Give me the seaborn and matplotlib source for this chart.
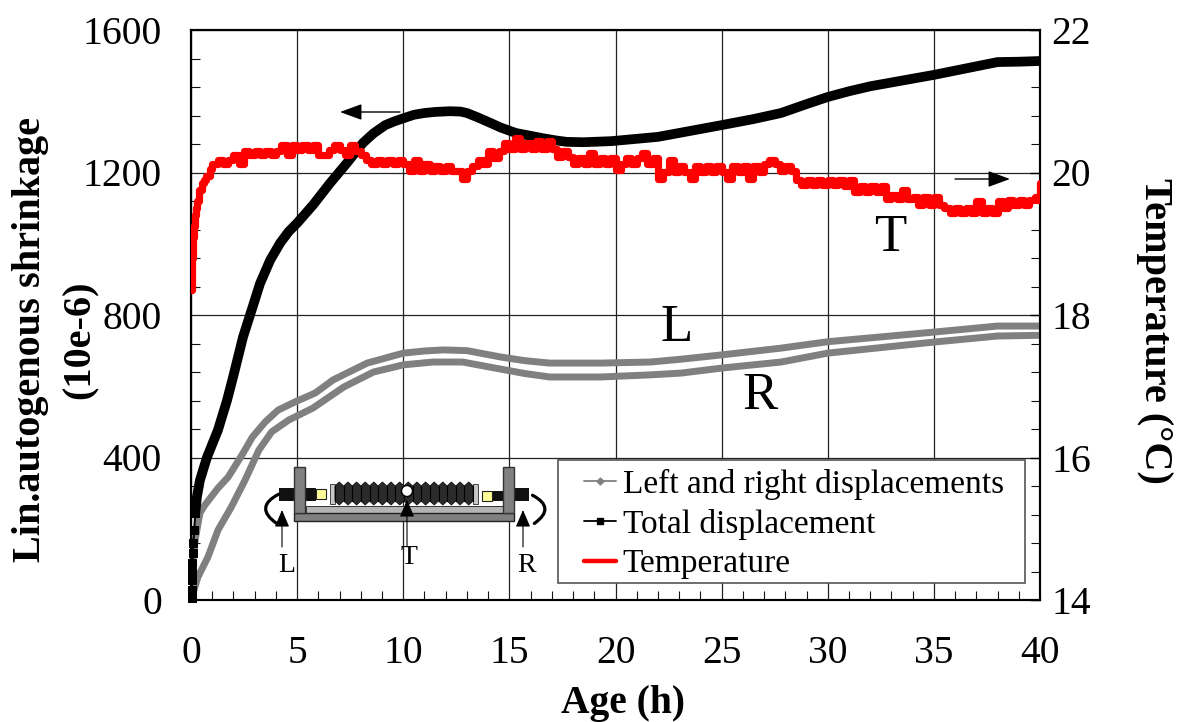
import matplotlib
matplotlib.use("Agg")
import matplotlib.pyplot as plt
import seaborn as sns
from matplotlib.lines import Line2D
from matplotlib.patches import Circle, FancyArrowPatch, Polygon, Rectangle
from matplotlib.ticker import MultipleLocator

# Values
TOTAL_HOURS = [0.03, 0.04, 0.05, 0.06, 0.07, 0.09, 0.11, 0.15, 0.2, 0.28, 0.42, 0.75, 1.27, 1.7, 2.0,
               2.45, 2.9, 3.25, 3.73, 4.2, 4.6, 5.0, 5.75, 6.55, 7.35, 8.1, 8.6, 9.15, 9.6, 10.0, 10.5, 11.0, 11.5,
               12.2, 12.7, 13.0, 13.5, 14.0, 14.6, 15.3, 16.0, 16.6, 17.2, 17.7, 18.5, 19.8, 22.0, 23.0, 24.0,
               25.0, 26.5, 27.8, 29.0, 30.0, 31.0, 32.0, 33.5, 35.0, 36.5, 38.0, 39.0, 40.0]
TOTAL_SHRINK = [5, 28, 56, 79, 103, 131, 160, 196, 243, 290, 336, 400, 477, 561, 630,
                738, 822, 888, 954, 1002, 1034, 1058, 1109, 1170, 1227, 1283, 1310, 1333, 1344, 1352, 1362, 1367, 1370,
                1372, 1371, 1367, 1355, 1342, 1326, 1311, 1303, 1296, 1290, 1286, 1285, 1288, 1300, 1311, 1322,
                1333, 1350, 1367, 1392, 1412, 1428, 1442, 1458, 1474, 1492, 1510, 1511, 1513]

LEFT_HOURS = [0.0, 0.1, 0.2, 0.42, 0.66, 1.27, 1.75, 2.4, 2.9, 3.5, 4.1, 4.9, 5.85, 6.7, 8.3, 10.0, 11.0, 11.9,
              13.0, 14.6, 15.7, 16.9, 19.3, 21.65, 23.1, 25.0, 27.8, 30.0, 35.0, 38.0, 40.0]
LEFT_SHRINK = [40, 120, 170, 244, 267, 314, 345, 407, 458, 500, 533, 556, 581, 618, 665, 693, 699, 702,
               700, 682, 672, 665, 665, 668, 676, 688, 707, 725, 752, 769, 769]

RIGHT_HOURS = [0.0, 0.1, 0.33, 0.8, 1.27, 1.9, 2.55, 3.2, 3.8, 4.6, 5.75, 7.2, 8.6, 10.0, 11.4, 12.8,
               14.6, 15.7, 16.9, 19.3, 21.65, 23.1, 25.0, 27.8, 30.0, 35.0, 38.0, 40.0]
RIGHT_SHRINK = [5, 20, 65, 121, 196, 261, 337, 421, 472, 505, 539, 598, 640, 660, 668, 668,
                648, 636, 626, 626, 632, 637, 651, 668, 693, 724, 741, 743]

TEMP_RISE_HOURS = [0.0, 0.03, 0.06, 0.1, 0.15, 0.2, 0.25, 0.3, 0.4, 0.5, 0.6, 0.7, 0.9]
TEMP_RISE = [18.35, 18.6, 18.8, 19.1, 19.25, 19.4, 19.5, 19.6, 19.75, 19.85, 19.9, 19.95, 20.05]
# one row per hour, four readings each, from hour 1 to hour 38
TEMP_BAND = [
    20.12, 20.17, 20.12, 20.17,
    20.24, 20.12, 20.3, 20.24,
    20.3, 20.24, 20.3, 20.24,
    20.3, 20.38, 20.24, 20.38,
    20.31, 20.38, 20.31, 20.38,
    20.24, 20.24, 20.31, 20.38,
    20.31, 20.24, 20.38, 20.3,
    20.24, 20.17, 20.12, 20.17,
    20.12, 20.17, 20.12, 20.17,
    20.12, 20.02, 20.17, 20.02,
    20.12, 20.02, 20.09, 20.02,
    20.09, 20.02, 20.02, 19.91,
    20.02, 20.09, 20.17, 20.12,
    20.3, 20.2, 20.3, 20.41,
    20.33, 20.48, 20.33, 20.41,
    20.33, 20.44, 20.33, 20.44,
    20.33, 20.22, 20.3, 20.22,
    20.12, 20.2, 20.12, 20.27,
    20.12, 20.2, 20.12, 20.2,
    20.04, 20.12, 20.2, 20.12,
    20.2, 20.27, 20.12, 20.2,
    19.91, 20.01, 20.17, 20.01,
    20.09, 20.01, 19.91, 20.09,
    20.01, 20.09, 20.01, 20.09,
    20.01, 19.91, 20.09, 20.01,
    20.09, 19.91, 20.09, 20.01,
    20.12, 20.17, 20.12, 20.02,
    20.09, 20.02, 19.9, 19.83,
    19.9, 19.83, 19.9, 19.83,
    19.9, 19.83, 19.9, 19.81,
    19.9, 19.73, 19.81, 19.73,
    19.81, 19.73, 19.81, 19.63,
    19.69, 19.63, 19.75, 19.63,
    19.66, 19.54, 19.66, 19.54,
    19.66, 19.54, 19.5, 19.43,
    19.5, 19.43, 19.5, 19.43,
    19.6, 19.43, 19.5, 19.43,
    19.6, 19.5, 19.61, 19.54,
]
TEMP_END_HOURS = [39.0, 39.25, 39.5, 39.75, 39.9, 40.0]
TEMP_END = [19.61, 19.54, 19.61, 19.66, 19.61, 19.85]

X_TICKS = [0, 5, 10, 15, 20, 25, 30, 35, 40]
SHRINK_TICKS = [0, 400, 800, 1200, 1600]
TEMP_TICKS = [14, 16, 18, 20, 22]
SERIES_NAMES = ["Left and right displacements", "Total displacement", "Temperature"]

GREY = "#808080"
SERIF = ["Liberation Serif", "DejaVu Serif"]


def draw_rig(sk):
    """The little test rig drawn inside the plot, positioned in picture pixels."""
    for x0, x1, y0, y1 in [(279, 294, 488, 501), (306, 316, 488, 501), (493, 503, 491, 501), (514, 529, 488, 501)]:
        sk.add_patch(Rectangle((x0, y0), x1 - x0, y1 - y0, fc="#111111", ec="none", zorder=2))
    sk.add_patch(Rectangle((306, 506), 197, 7, fc="#b4b4b4", ec="#333333", lw=0.7, zorder=2))
    sk.add_patch(Rectangle((294, 513), 220, 8, fc=GREY, ec="#222222", lw=1, zorder=3))
    for x0 in (294, 503):
        sk.add_patch(Rectangle((x0, 467), 11, 46, fc=GREY, ec="#333333", lw=1, zorder=3))
    for x0, y0 in [(316, 489), (482, 491)]:
        sk.add_patch(Rectangle((x0, y0), 10, 10, fc="#ffff99", ec="#222222", lw=0.8, zorder=3))
    for x0 in (330, 473):
        sk.add_patch(Rectangle((x0, 484), 5, 20, fc="#c8c8c8", ec="#444444", lw=0.7, zorder=3))

    # bellows
    teeth = 16
    step = (473 - 335) / teeth
    outline = []
    for i in range(teeth):
        outline += [(335 + i * step, 486), (335 + (i + 0.5) * step, 482)]
    outline.append((473, 486))
    for i in range(teeth, 0, -1):
        outline += [(335 + i * step, 501), (335 + (i - 0.5) * step, 505)]
    outline.append((335, 501))
    sk.add_patch(Polygon(outline, closed=True, fc="#2b2b2b", ec="#111111", lw=0.6, zorder=3))
    for i in range(teeth + 1):
        sk.plot([335 + i * step] * 2, [486, 501], color="black", lw=0.8, zorder=4)
    sk.add_patch(Circle((407, 491), 5.5, fc="white", ec="black", lw=1, zorder=5))

    # pointers
    for x0, y0 in [(282, 510), (407, 500), (523, 510)]:
        sk.annotate("", xy=(x0, y0), xytext=(x0, 547), zorder=6,
                    arrowprops=dict(arrowstyle="-|>,head_length=0.7,head_width=0.3", color="black", lw=0.8,
                                    shrinkA=0, shrinkB=0, mutation_scale=15))
    for start, stop, rad in [((281, 493), (279, 525), 0.9), ((530, 494), (532, 525), -0.9)]:
        sk.add_patch(FancyArrowPatch(start, stop, connectionstyle=f"arc3,rad={rad}", arrowstyle="-",
                                     color="black", lw=2.3, zorder=5))
    for label, x0, y0 in [("L", 287, 566), ("T", 409, 557), ("R", 527, 566)]:
        sk.text(x0, y0, label, fontsize=20, ha="center", va="center", zorder=6)


def main():
    sns.set_theme(style="ticks")
    plt.rcParams["font.family"] = SERIF
    plt.rcParams["text.color"] = "black"

    fig = plt.figure(figsize=(11.79, 7.22), dpi=100)
    position = [191 / 1179, 1 - 600 / 722, 849 / 1179, 570 / 722]
    ax = fig.add_axes(position)
    ax_temp = ax.twinx()

    # Grid sits under the curves
    ax.grid(True, which="major", color="#222222", lw=0.9)
    ax.set_axisbelow(True)

    for hours, shrink in [(LEFT_HOURS, LEFT_SHRINK), (RIGHT_HOURS, RIGHT_SHRINK)]:
        sns.lineplot(x=hours, y=shrink, ax=ax, color=GREY, lw=5, estimator=None, sort=False, zorder=3)

    # The very first readings are far enough apart to show as separate squares
    sns.lineplot(x=TOTAL_HOURS[:9], y=TOTAL_SHRINK[:9], ax=ax, color="black", lw=1.5, estimator=None, sort=False,
                 zorder=4, marker="s", markersize=6, markeredgecolor="black", clip_on=False)
    sns.lineplot(x=TOTAL_HOURS[8:], y=TOTAL_SHRINK[8:], ax=ax, color="black", lw=7, estimator=None, sort=False,
                 zorder=4, solid_capstyle="butt")

    temp_hours = TEMP_RISE_HOURS + [1 + 0.25 * i for i in range(len(TEMP_BAND))] + TEMP_END_HOURS
    temp_values = TEMP_RISE + TEMP_BAND + TEMP_END
    sns.lineplot(x=temp_hours, y=temp_values, ax=ax_temp, color="#ff0000", lw=5.2, estimator=None, sort=False,
                 drawstyle="steps-post", solid_joinstyle="round", solid_capstyle="round", zorder=5)

    ax.set_xlim(0, 40)
    ax.set_ylim(0, 1600)
    ax_temp.set_ylim(14, 22)
    ax.set_xticks(X_TICKS)
    ax.set_yticks(SHRINK_TICKS)
    ax_temp.set_yticks(TEMP_TICKS)
    ax.xaxis.set_minor_locator(MultipleLocator(1))
    ax.yaxis.set_minor_locator(MultipleLocator(80))
    ax_temp.yaxis.set_minor_locator(MultipleLocator(0.4))
    ax_temp.grid(False)
    ax_temp.patch.set_visible(False)
    ax.set_zorder(1)
    ax_temp.set_zorder(2)

    ax.tick_params(axis="x", which="major", direction="in", length=0, labelsize=28.5, pad=25, colors="black")
    ax.tick_params(axis="y", which="major", direction="in", length=0, labelsize=28.5, pad=21, colors="black")
    ax.tick_params(which="minor", direction="in", length=6.5, width=0.8, color="#111111")
    ax_temp.tick_params(axis="y", which="major", direction="in", length=7, width=1, labelsize=28.5, pad=8, colors="black")
    ax_temp.tick_params(axis="y", which="minor", direction="in", length=6.5, width=0.8, color="#111111")
    for axis in (ax, ax_temp):
        for spine in axis.spines.values():
            spine.set_linewidth(1.5)
            spine.set_color("black")

    # Labels placed on the figure so the two-line y label can be spaced like the original
    fig.text(623 / 1179, 1 - 703 / 722, "Age (h)", fontsize=28.5, fontweight="bold", ha="center", va="center")
    fig.text(31 / 1179, 1 - 340 / 722, "Lin.autogenous shrinkage", fontsize=29, fontweight="bold",
             rotation=90, ha="center", va="center")
    fig.text(80 / 1179, 1 - 340 / 722, "(10e-6)", fontsize=29, fontweight="bold",
             rotation=90, ha="center", va="center")
    fig.text(1154 / 1179, 1 - 331 / 722, "Temperature (°C)", fontsize=29, fontweight="bold",
             rotation=-90, ha="center", va="center")

    # Overlay in picture pixels for the notes, the rig and the legend
    sk = fig.add_axes(position, zorder=5)
    sk.set_xlim(191, 1040)
    sk.set_ylim(600, 30)
    sk.axis("off")

    for label, x0, y0 in [("L", 677, 328), ("R", 760, 396), ("T", 890, 238)]:
        sk.text(x0, y0, label, fontsize=38, ha="center", va="center")
    for start, stop in [((400, 112), (340, 112)), ((955, 179), (1010, 179))]:
        sk.annotate("", xy=stop, xytext=start,
                    arrowprops=dict(arrowstyle="-|>,head_length=0.9,head_width=0.33", color="black", lw=1,
                                    shrinkA=0, shrinkB=0, mutation_scale=15))
    draw_rig(sk)

    sk.add_patch(Rectangle((558, 460), 467, 123, fc="white", ec="#555555", lw=1.2, zorder=6))
    handles = [
        Line2D([], [], color=GREY, lw=1.3, marker="D", markersize=3.5),
        Line2D([], [], color="black", lw=1.3, marker="s", markersize=4.5),
        Line2D([], [], color="#ff0000", lw=3.2),
    ]
    legend = sk.legend(handles, SERIES_NAMES, loc="center left", bbox_to_anchor=(584, 524), bbox_transform=sk.transData,
                       fontsize=24, frameon=False, handlelength=0.96, handletextpad=0.2, labelspacing=0.27,
                       borderpad=0, borderaxespad=0, labelcolor="black")
    legend.set_zorder(7)

    fig.savefig("out.png", dpi=100)


if __name__ == "__main__":
    main()
